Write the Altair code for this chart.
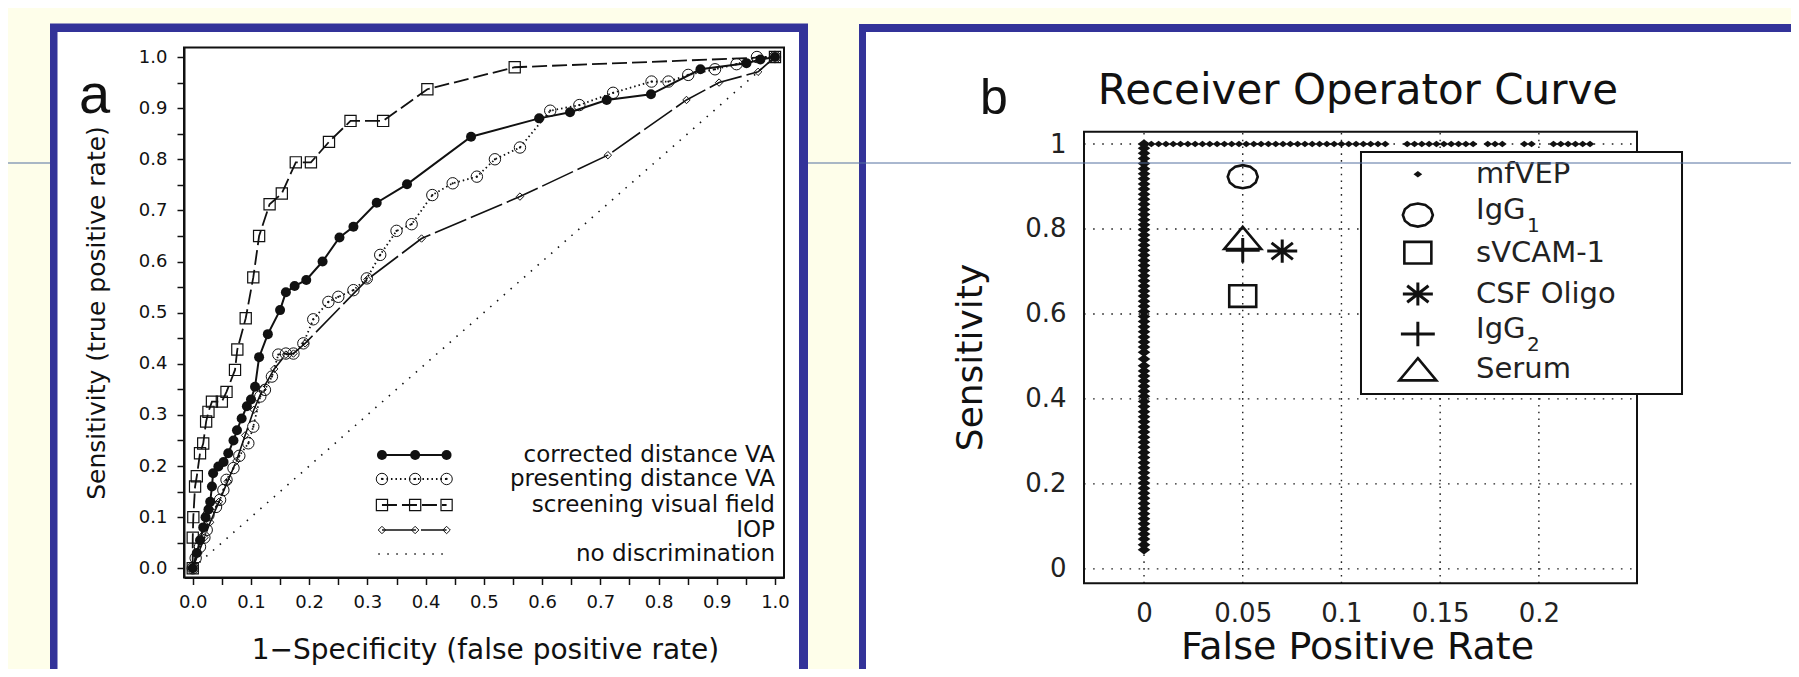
import altair as alt
import pandas as pd

W, H = 1783, 661
INK = "#111111"
FRAME = "#333399"
BG = "#FEFEEA"

# ---------------- panel a data ----------------
cdva_fpr = [0, 0.007, 0.0125, 0.018, 0.022, 0.027, 0.03, 0.033, 0.035, 0.044,
            0.053, 0.061, 0.07, 0.076, 0.084, 0.093, 0.1, 0.107, 0.114, 0.129,
            0.15, 0.16, 0.175, 0.195, 0.223, 0.252, 0.276, 0.316, 0.368, 0.478,
            0.595, 0.648, 0.711, 0.787, 0.872, 0.951, 0.975, 1.0]
cdva_tpr = [0, 0.03, 0.055, 0.08, 0.1, 0.115, 0.13, 0.16, 0.186, 0.199,
            0.208, 0.225, 0.25, 0.27, 0.293, 0.317, 0.33, 0.355, 0.413, 0.458,
            0.505, 0.54, 0.552, 0.564, 0.6, 0.647, 0.668, 0.715, 0.751, 0.844,
            0.88, 0.892, 0.916, 0.927, 0.976, 0.988, 0.995, 1.0]

pdva_fpr = [0, 0.005, 0.0125, 0.02, 0.024, 0.027, 0.04, 0.047, 0.0526, 0.058,
            0.07, 0.08, 0.0955, 0.104, 0.116, 0.124, 0.136, 0.147, 0.16, 0.173,
            0.19, 0.207, 0.233, 0.25, 0.276, 0.299, 0.322, 0.35, 0.376, 0.4115,
            0.4465, 0.488, 0.519, 0.562, 0.614, 0.664, 0.722, 0.788, 0.817, 0.851,
            0.897, 0.934, 0.969, 1.0]
pdva_tpr = [0, 0.02, 0.042, 0.06, 0.075, 0.104, 0.12, 0.134, 0.153, 0.173,
            0.196, 0.22, 0.2445, 0.277, 0.336, 0.349, 0.375, 0.418, 0.42, 0.42,
            0.44, 0.487, 0.521, 0.531, 0.544, 0.567, 0.613, 0.66, 0.673, 0.73,
            0.753, 0.766, 0.8, 0.823, 0.895, 0.906, 0.93, 0.952, 0.952, 0.965,
            0.976, 0.986, 1.0, 1.0]

svf_fpr = [0, 0, 0.001, 0.004, 0.007, 0.0125, 0.018, 0.023, 0.027, 0.033,
           0.05, 0.058, 0.0726, 0.0766, 0.091, 0.104, 0.114, 0.132, 0.153, 0.177,
           0.203, 0.234, 0.271, 0.327, 0.403, 0.553, 1.0]
svf_tpr = [0, 0.06, 0.1, 0.16, 0.18, 0.225, 0.244, 0.287, 0.306, 0.326,
           0.326, 0.345, 0.388, 0.428, 0.489, 0.569, 0.65, 0.712, 0.733, 0.794,
           0.794, 0.834, 0.875, 0.875, 0.937, 0.98, 1.0]

iop_fpr = [0, 0.01, 0.02, 0.03, 0.045, 0.06, 0.075, 0.09, 0.105, 0.12,
           0.14, 0.16, 0.173, 0.193, 0.3, 0.393, 0.562, 0.713, 0.848, 0.904,
           0.971, 1.0]
iop_tpr = [0, 0.03, 0.06, 0.09, 0.13, 0.17, 0.21, 0.26, 0.31, 0.35,
           0.39, 0.418, 0.42, 0.44, 0.565, 0.645, 0.727, 0.808, 0.916, 0.95,
           0.971, 1.0]

nodisc_fpr = [0, 1]
nodisc_tpr = [0, 1]

legend_a_labels = ["corrected distance VA", "presenting distance VA",
                   "screening visual field", "IOP", "no discrimination"]
legend_a_rows = [0.2216, 0.1747, 0.1238, 0.0749, 0.028]
legend_a_sample = [0.325, 0.382, 0.436]
legend_a_dotted = [0.3187, 0.4418]
legend_a_text_x = 1.0

ticks_a = [0, 0.05, 0.1, 0.15, 0.2, 0.25, 0.3, 0.35, 0.4, 0.45, 0.5,
           0.55, 0.6, 0.65, 0.7, 0.75, 0.8, 0.85, 0.9, 0.95, 1.0]

# ---------------- panel b data ----------------
mfvep_col_sens = [0.045, 0.057, 0.07, 0.082, 0.094, 0.106, 0.118, 0.13, 0.142, 0.154,
                  0.166, 0.178, 0.19, 0.202, 0.214, 0.226, 0.238, 0.25, 0.262, 0.274,
                  0.286, 0.298, 0.31, 0.322, 0.334, 0.346, 0.358, 0.37, 0.382, 0.394,
                  0.406, 0.418, 0.43, 0.442, 0.454, 0.466, 0.478, 0.494, 0.51, 0.522,
                  0.534, 0.546, 0.558, 0.57, 0.582, 0.594, 0.606, 0.618, 0.63, 0.642,
                  0.654, 0.666, 0.678, 0.69, 0.702, 0.714, 0.726, 0.738, 0.75, 0.762,
                  0.774, 0.786, 0.798, 0.81, 0.822, 0.834, 0.846, 0.858, 0.87, 0.882,
                  0.894, 0.906, 0.918, 0.93, 0.942, 0.954, 0.966, 0.978, 0.99, 1.0]
mfvep_row_fpr = [0.0037, 0.0074, 0.0111, 0.0148, 0.0185, 0.0222, 0.0259, 0.0296, 0.0333,
                 0.037, 0.0407, 0.0444, 0.0481, 0.0518, 0.0556, 0.0593, 0.063, 0.0667,
                 0.0704, 0.0741, 0.0778, 0.0815, 0.0852, 0.0889, 0.0926, 0.0963, 0.1,
                 0.1037, 0.1074, 0.1111, 0.1148, 0.1185, 0.1222,
                 0.1333, 0.137, 0.1407, 0.1444, 0.1481, 0.1519, 0.1556, 0.1593, 0.163, 0.1667,
                 0.1741, 0.1778, 0.1815, 0.1926, 0.1963,
                 0.2074, 0.2111, 0.2148, 0.2185, 0.2222, 0.2259]

marker_names = ["IgG1", "sVCAM-1", "CSF Oligo", "IgG2", "Serum"]
marker_fpr = [0.05, 0.05, 0.07, 0.05, 0.05]
marker_sens = [0.923, 0.642, 0.748, 0.75, 0.779]

legend_b_names = ["mfVEP", "IgG1", "sVCAM-1", "CSF Oligo", "IgG2", "Serum"]
legend_b_rows = [0.9287, 0.8329, 0.7442, 0.6471, 0.5529, 0.4698]
legend_b_sym_x = 0.1387
legend_b_text_x = 0.1682
legend_b_box = {"x0": 0.1099, "x1": 0.2725, "y0": 0.4118, "y1": 0.9812}

ticks_bx = [0, 0.05, 0.1, 0.15, 0.2]
ticks_by = [0, 0.2, 0.4, 0.6, 0.8, 1.0]
dom_bx = [-0.0304, 0.2497]
dom_by = [-0.034, 1.029]
dom_ax = [-0.015, 1.0155]
dom_ay = [-0.018, 1.0186]

# ---------------- scales and axes ----------------
sxa = alt.Scale(domain=dom_ax, range=[176, 776], nice=False, zero=False)
sya = alt.Scale(domain=dom_ay, range=[569.5, 39.5], nice=False, zero=False)
sxb = alt.Scale(domain=dom_bx, range=[1076, 1629], nice=False, zero=False)
syb = alt.Scale(domain=dom_by, range=[575.3, 123.7], nice=False, zero=False)

minor_expr = "round(datum.value * 20) % 2 == 0 ? format(datum.value, '.1f') : ''"

axa = alt.Axis(orient="bottom", offset=569.5 - H, values=ticks_a, labelExpr=minor_expr,
               tickSize=7, tickWidth=1.5, tickColor=INK, domainColor=INK, domainWidth=2,
               labelFont="DejaVu Sans", labelFontSize=18, labelColor=INK, labelPadding=9,
               labelOverlap=False, labelFlush=False, grid=False,
               title="1\u2212Specificity (false positive rate)", titleFont="DejaVu Sans",
               titleFontSize=28, titleFontWeight="normal", titleColor=INK,
               titleX=477, titleY=80.5, titleAlign="center", titleBaseline="alphabetic",
               zindex=1)
aya = alt.Axis(orient="left", offset=-176, values=ticks_a, labelExpr=minor_expr,
               tickSize=7, tickWidth=1.5, tickColor=INK, domainColor=INK, domainWidth=2,
               labelFont="DejaVu Sans", labelFontSize=18, labelColor=INK, labelPadding=10,
               labelOverlap=False, labelFlush=False, grid=False,
               title="Sensitivity (true positive rate)", titleFont="DejaVu Sans",
               titleFontSize=25, titleFontWeight="normal", titleColor=INK,
               titleAngle=270, titleX=-88, titleY=304.5, titleAlign="center",
               titleBaseline="middle", zindex=1)
axb = alt.Axis(orient="bottom", offset=575.3 - H, values=ticks_bx, format="~g",
               ticks=False, domain=False, labelFont="DejaVu Sans", labelFontSize=26,
               labelColor="#222222", labelPadding=17, labelOverlap=False, labelFlush=False,
               grid=False, title="False Positive Rate", titleFont="DejaVu Sans",
               titleFontSize=38, titleFontWeight="normal", titleColor=INK,
               titleX=1349, titleY=75.5, titleAlign="center", titleBaseline="alphabetic",
               zindex=1)
ayb = alt.Axis(orient="left", offset=-1076, values=ticks_by, format="~g",
               ticks=False, domain=False, labelFont="DejaVu Sans", labelFontSize=26,
               labelColor="#222222", labelPadding=18, labelOverlap=False, labelFlush=False,
               grid=False, title="Sensitivity", titleFont="DejaVu Sans", titleFontSize=36,
               titleFontWeight="normal", titleColor=INK, titleAngle=270, titleX=-114,
               titleY=349, titleAlign="center", titleBaseline="middle", zindex=1)


def xa(f="x"):
    return alt.X(f"{f}:Q", scale=sxa, axis=axa)


def ya(f="y"):
    return alt.Y(f"{f}:Q", scale=sya, axis=aya)


def xb(f="x"):
    return alt.X(f"{f}:Q", scale=sxb, axis=axb)


def yb(f="y"):
    return alt.Y(f"{f}:Q", scale=syb, axis=ayb)


one = pd.DataFrame([{"k": 0}])


def series(xs, ys, row):
    cur = pd.DataFrame({"x": xs, "y": ys, "grp": "curve", "i": range(len(xs))})
    leg = pd.DataFrame({"x": legend_a_sample, "y": [legend_a_rows[row]] * 3,
                        "grp": "legend", "i": range(3)})
    return pd.concat([cur, leg], ignore_index=True)


# ---------------- panel a ----------------
hline = alt.Chart(one).mark_rule(color="#5470A0", strokeWidth=1).encode(
    x=alt.value(0), x2=alt.value(W), y=alt.value(155))
frame_a = alt.Chart(one).mark_rect(color=FRAME).encode(
    x=alt.value(42), x2=alt.value(800), y=alt.value(15.5), y2=alt.value(H))
inner_a = alt.Chart(one).mark_rect(color="white").encode(
    x=alt.value(49.5), x2=alt.value(791), y=alt.value(24), y2=alt.value(H))
box_a = alt.Chart(pd.DataFrame([{"x0": dom_ax[0], "x1": dom_ax[1], "y0": dom_ay[0], "y1": dom_ay[1]}])).mark_rect(
    fillOpacity=0, stroke=INK, strokeWidth=2).encode(
    x=xa("x0"), x2="x1:Q", y=ya("y0"), y2="y1:Q")

diag_df = pd.concat([
    pd.DataFrame({"x": nodisc_fpr, "y": nodisc_tpr, "grp": "curve", "i": [0, 1]}),
    pd.DataFrame({"x": legend_a_dotted, "y": [legend_a_rows[4]] * 2, "grp": "legend", "i": [0, 1]}),
], ignore_index=True)
diag = alt.Chart(diag_df).mark_line(color=INK, strokeWidth=1.6, strokeDash=[1.5, 7.5]).encode(
    x=xa(), y=ya(), detail="grp:N", order="i:Q")

iop_df = series(iop_fpr, iop_tpr, 3)
iop_line = alt.Chart(iop_df).mark_line(color=INK, strokeWidth=1.6, strokeDash=[34, 5]).encode(
    x=xa(), y=ya(), detail="grp:N", order="i:Q")
iop_pts = alt.Chart(iop_df).mark_point(shape="diamond", size=55, filled=False, color=INK,
                                       strokeWidth=1, opacity=1).encode(x=xa(), y=ya())

pd_df = series(pdva_fpr, pdva_tpr, 1)
pd_line = alt.Chart(pd_df).mark_line(color=INK, strokeWidth=1.8, strokeDash=[1.5, 3]).encode(
    x=xa(), y=ya(), detail="grp:N", order="i:Q")
pd_pts = alt.Chart(pd_df).mark_point(shape="circle", size=130, filled=False, color=INK,
                                     strokeWidth=1, opacity=1).encode(x=xa(), y=ya())
pd_dot = alt.Chart(pd_df).mark_point(shape="circle", size=5, filled=True, color=INK,
                                     opacity=1).encode(x=xa(), y=ya())

svf_df = series(svf_fpr, svf_tpr, 2)
svf_line = alt.Chart(svf_df).mark_line(color=INK, strokeWidth=1.8, strokeDash=[15, 5]).encode(
    x=xa(), y=ya(), detail="grp:N", order="i:Q")
svf_pts = alt.Chart(svf_df).mark_point(shape="square", size=125, filled=False, color=INK,
                                       strokeWidth=1.2, opacity=1).encode(x=xa(), y=ya())

cd_df = series(cdva_fpr, cdva_tpr, 0)
cd_line = alt.Chart(cd_df).mark_line(color=INK, strokeWidth=2).encode(
    x=xa(), y=ya(), detail="grp:N", order="i:Q")
cd_pts = alt.Chart(cd_df).mark_point(shape="circle", size=100, filled=True, color=INK,
                                     opacity=1).encode(x=xa(), y=ya())

leg_a_txt = alt.Chart(pd.DataFrame({"label": legend_a_labels, "x": [legend_a_text_x] * 5,
                                    "y": legend_a_rows})).mark_text(
    align="right", baseline="middle", font="DejaVu Sans", fontSize=23, color=INK).encode(
    x=xa(), y=ya(), text="label:N")

label_a = alt.Chart(one).mark_text(text="a", align="left", baseline="alphabetic",
                                   font="Liberation Sans", fontSize=56, color=INK).encode(
    x=alt.value(71), y=alt.value(105))

panel_a = alt.layer(hline, frame_a, inner_a, label_a, box_a, diag, iop_line, iop_pts,
                    pd_line, pd_pts, pd_dot, svf_line, svf_pts, cd_line, cd_pts, leg_a_txt)

# ---------------- panel b ----------------
frame_b = alt.Chart(one).mark_rect(color=FRAME).encode(
    x=alt.value(851), x2=alt.value(W), y=alt.value(16), y2=alt.value(H))
inner_b = alt.Chart(one).mark_rect(color="white").encode(
    x=alt.value(858), x2=alt.value(W), y=alt.value(24), y2=alt.value(H))

vgrid = alt.Chart(pd.DataFrame({"x": ticks_bx, "y0": dom_by[0], "y1": dom_by[1]})).mark_rule(
    color="#222222", strokeWidth=1.4, strokeDash=[1.6, 5.2]).encode(
    x=xb(), y=yb("y0"), y2="y1:Q")
hgrid = alt.Chart(pd.DataFrame({"y": ticks_by, "x0": dom_bx[0], "x1": dom_bx[1]})).mark_rule(
    color="#222222", strokeWidth=1.4, strokeDash=[1.6, 7.5]).encode(
    y=yb(), x=xb("x0"), x2="x1:Q")
box_b = alt.Chart(pd.DataFrame([{"x0": dom_bx[0], "x1": dom_bx[1], "y0": dom_by[0], "y1": dom_by[1]}])).mark_rect(
    fillOpacity=0, stroke=INK, strokeWidth=2).encode(
    x=xb("x0"), x2="x1:Q", y=yb("y0"), y2="y1:Q")

DIAMOND = "M-1,0L0,-0.75L1,0L0,0.75Z"
ELLIPSE = ("M1,0L0.866,0.385L0.5,0.667L0,0.77L-0.5,0.667L-0.866,0.385L-1,0"
           "L-0.866,-0.385L-0.5,-0.667L0,-0.77L0.5,-0.667L0.866,-0.385Z")
SQUARE = "M-1,-0.8L1,-0.8L1,0.8L-1,0.8Z"
ASTER = "M-1,0L1,0M0,-0.77L0,0.77M-0.71,-0.55L0.71,0.55M-0.71,0.55L0.71,-0.55"
PLUS = "M-1,0L1,0M0,-0.72L0,0.72"
TRI = "M0,-0.6L1,0.6L-1,0.6Z"

mf_col = alt.Chart(pd.DataFrame({"x": [0] * len(mfvep_col_sens), "y": mfvep_col_sens})).mark_point(
    shape=DIAMOND, size=160, filled=True, color=INK, opacity=1).encode(x=xb(), y=yb())
mf_row = alt.Chart(pd.DataFrame({"x": mfvep_row_fpr + [legend_b_sym_x],
                                 "y": [1.0] * len(mfvep_row_fpr) + [legend_b_rows[0]]})).mark_point(
    shape=DIAMOND, size=75, filled=True, color=INK, opacity=1).encode(x=xb(), y=yb())


def marker(idx, shape, size, sw):
    df = pd.DataFrame({"x": [marker_fpr[idx], legend_b_sym_x],
                       "y": [marker_sens[idx], legend_b_rows[idx + 1]]})
    return alt.Chart(df).mark_point(shape=shape, size=size, filled=False, color=INK,
                                    strokeWidth=sw, opacity=1).encode(x=xb(), y=yb())


leg_box = alt.Chart(pd.DataFrame([legend_b_box])).mark_rect(
    fill="white", stroke=INK, strokeWidth=2).encode(
    x=xb("x0"), x2="x1:Q", y=yb("y0"), y2="y1:Q")

m_igg1 = marker(0, ELLIPSE, 900, 2.6)
m_svcam = marker(1, SQUARE, 729, 2.6)
m_csf = marker(2, ASTER, 900, 3)
m_igg2 = marker(3, PLUS, 1150, 3)
m_serum = marker(4, TRI, 1369, 2.6)

plain_idx = [0, 2, 3, 5]
leg_b_txt = alt.Chart(pd.DataFrame({"label": [legend_b_names[i] for i in plain_idx],
                                    "x": [legend_b_text_x] * 4,
                                    "y": [legend_b_rows[i] for i in plain_idx]})).mark_text(
    align="left", baseline="middle", font="DejaVu Sans", fontSize=29, color="#222222").encode(
    x=xb(), y=yb(), text="label:N")
igg_df = pd.DataFrame({"label": ["IgG", "IgG"], "sub": ["1", "2"],
                       "x": [legend_b_text_x] * 2, "y": [legend_b_rows[1], legend_b_rows[4]]})
leg_b_igg = alt.Chart(igg_df).mark_text(
    align="left", baseline="alphabetic", dy=4, font="DejaVu Sans", fontSize=29,
    color="#222222").encode(x=xb(), y=yb(), text="label:N")
leg_b_sub = alt.Chart(igg_df).mark_text(
    align="left", baseline="alphabetic", dx=51, dy=17, font="DejaVu Sans", fontSize=20,
    color="#222222").encode(x=xb(), y=yb(), text="sub:N")

title_b = alt.Chart(one).mark_text(text="Receiver Operator Curve", align="center",
                                   baseline="alphabetic", font="DejaVu Sans", fontSize=42,
                                   color=INK).encode(x=alt.value(1350), y=alt.value(96))
label_b = alt.Chart(one).mark_text(text="b", align="left", baseline="alphabetic",
                                   font="Liberation Sans", fontSize=50, color=INK).encode(
    x=alt.value(972), y=alt.value(106))

panel_b = alt.layer(frame_b, inner_b, title_b, label_b, vgrid, hgrid, box_b, leg_box,
                    mf_col, mf_row, m_igg1, m_svcam, m_igg2, m_serum, m_csf,
                    leg_b_txt, leg_b_igg, leg_b_sub)

chart = alt.layer(panel_b, panel_a).resolve_scale(
    x="independent", y="independent"
).properties(
    width=W, height=H, padding=0, autosize=alt.AutoSizeParams(type="none")
).configure(background=BG).configure_view(strokeWidth=0)

chart.save("out.html", embed_options={"renderer": "svg", "actions": False})
